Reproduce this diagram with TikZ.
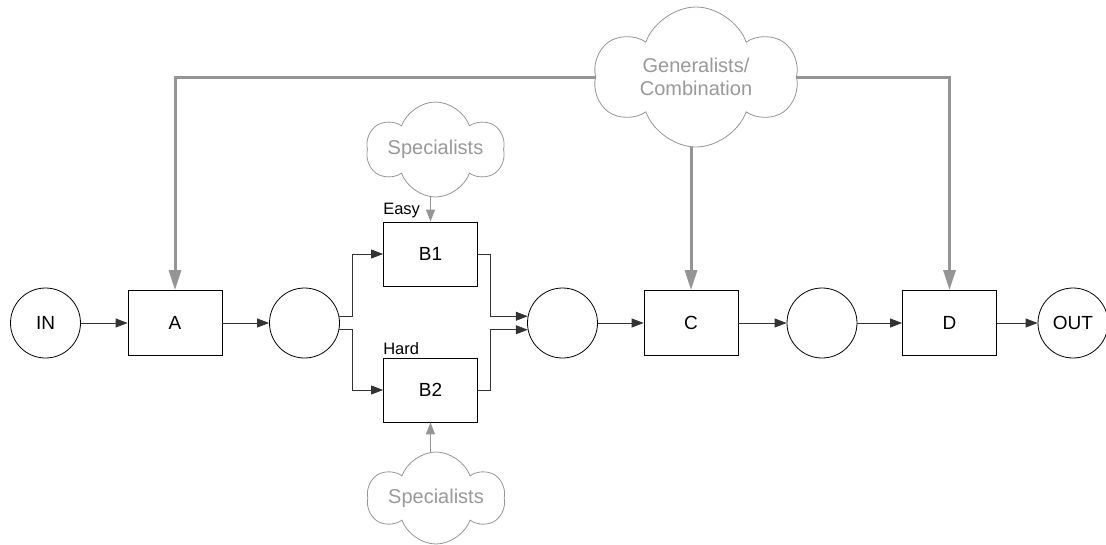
\documentclass[tikz,border=0pt]{standalone}
\usepackage{fontspec}
\setmainfont{Liberation Sans}
\usetikzlibrary{arrows.meta,shapes.symbols}
\definecolor{lineblk}{HTML}{333333}
\definecolor{gline}{HTML}{959595}
\definecolor{gtext}{HTML}{999999}
\tikzset{
  x=1pt,y=-1pt,
  place/.style={circle,draw=black,line width=0.8pt,minimum size=70pt,inner sep=0pt,font=\fontsize{19}{21}\selectfont},
  trans/.style={rectangle,draw=black,line width=0.8pt,minimum width=94pt,minimum height=65pt,inner sep=0pt,font=\fontsize{19}{21}\selectfont},
  conn/.style={draw=lineblk,line width=0.8pt,-{Triangle[length=12pt,width=9pt]}},
  gconn/.style={draw=gline,line width=3pt,-{Triangle[length=20pt,width=12pt]}},
  sconn/.style={draw=gline,line width=1pt,-{Triangle[length=12pt,width=9pt]}},
  cloudbox/.style={cloud,cloud puffs=6,cloud puff arc=140,cloud ignores aspect,draw=gline,line width=0.8pt,fill=white,text=gtext,align=center,font=\fontsize{20}{23}\selectfont,inner sep=0pt},
  tag/.style={font=\fontsize{16.5}{18}\selectfont,anchor=south west,inner sep=0pt}
}
\begin{document}
\begin{tikzpicture}
\useasboundingbox (0,0) rectangle (1106,544);
% places and transitions
\node[place] (in) at (45.5,323) {IN};
\node[trans] (A) at (175,323) {A};
\node[place] (p1) at (304.5,323) {};
\node[trans,minimum height=64pt] (B1) at (430.5,254) {B1};
\node[trans,minimum height=64pt] (B2) at (430.5,390) {B2};
\node[place] (p2) at (562.5,323) {};
\node[trans] (C) at (691,323) {C};
\node[place] (p3) at (822,323) {};
\node[trans] (D) at (949.5,323) {D};
\node[place] (out) at (1073,323) {OUT};
% labels
\node[tag] (easy) at (B1.north west) [yshift=3pt] {Easy};
\node[tag] (hard) at (B2.north west) [yshift=3pt] {Hard};
% black connectors
\draw[conn] (in) -- (A);
\draw[conn] (A) -- (p1);
\draw[conn] (p1.11) -- ++(13,0) |- (B1.west);
\draw[conn] (p1.-11) -- ++(13,0) |- (B2.west);
\draw[conn] (B1.east) -- ++(12,0) |- (p2.169);
\draw[conn] (B2.east) -- ++(12,0) |- (p2.191);
\draw[conn] (p2) -- (C);
\draw[conn] (C) -- (p3);
\draw[conn] (p3) -- (D);
\draw[conn] (D) -- (out);
% generalists
\coordinate (gl) at (600,77);
\coordinate (gr) at (792,77);
\coordinate (gd) at (691,115);
\draw[gconn] (gl) -| (A.north);
\draw[gconn] (gr) -| (D.north);
\draw[gconn] (gd) -- (C.north);
\node[cloudbox,minimum width=202pt,minimum height=140pt] (gen) at (696,77) {Generalists/\\Combination};
% specialists
\coordinate (s1) at (430.5,174);
\coordinate (s2) at (430.5,472);
\draw[sconn] (s1) -- (B1.north);
\draw[sconn] (s2) -- (B2.south);
\node[cloudbox,minimum width=137pt,minimum height=95pt] (spec1) at (435.5,149.5) {\raisebox{5pt}{Specialists}};
\node[cloudbox,minimum width=136pt,minimum height=92pt] (spec2) at (436,498) {Specialists};
\end{tikzpicture}
\end{document}
